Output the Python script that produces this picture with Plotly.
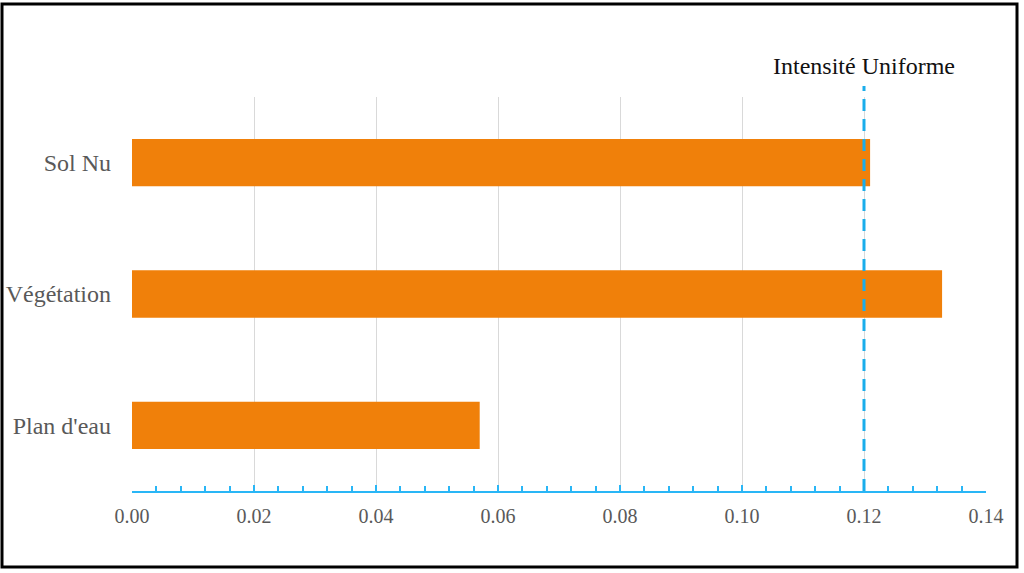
import plotly.graph_objects as go

categories = ["Plan d'eau", "Végétation", "Sol Nu"]
values = [0.057, 0.1328, 0.121]
uniform_value = 0.12
uniform_label = "Intensité Uniforme"
x_ticks = [0.00, 0.02, 0.04, 0.06, 0.08, 0.10, 0.12, 0.14]

W, H = 1024, 573
L, R, T, B = 132, 38, 97, 82
pw, ph = W - L - R, H - T - B

def px_x(p):
    return (p - L) / pw

def px_y(p):
    return (H - B - p) / ph

fig = go.Figure()
fig.add_trace(go.Bar(
    y=categories, x=values, orientation="h",
    marker=dict(color="#F0800A", line=dict(width=0)),
    width=0.36, showlegend=False,
))

fig.add_shape(type="line", xref="x", yref="paper",
              x0=uniform_value, x1=uniform_value, y0=0, y1=px_y(86),
              line=dict(color="#1AADEB", width=3, dash="12px,8px"))
fig.add_annotation(x=uniform_value, xref="x", y=px_y(66), yref="paper",
                   xanchor="center", yanchor="middle",
                   text=uniform_label, showarrow=False,
                   font=dict(family="Liberation Serif", size=24, color="#111111"))

fig.add_shape(type="rect", xref="paper", yref="paper",
              x0=px_x(2), x1=px_x(1017), y0=px_y(567), y1=px_y(4),
              line=dict(color="black", width=3), fillcolor="rgba(0,0,0,0)")

fig.update_layout(
    width=W, height=H,
    margin=dict(l=L, r=R, t=T, b=B, pad=0, autoexpand=False),
    plot_bgcolor="white", paper_bgcolor="white",
    xaxis=dict(
        range=[0, 0.14], tickvals=x_ticks, tickformat=".2f",
        showgrid=True, gridcolor="#D9D9D9", gridwidth=1,
        showline=True, linecolor="#29B6F6", linewidth=2,
        ticks="inside", ticklen=6, tickcolor="#29B6F6", tickwidth=2,
        minor=dict(dtick=0.004, ticks="inside", ticklen=5, tickcolor="#29B6F6", tickwidth=2, showgrid=False),
        ticklabelstandoff=6,
        tickfont=dict(family="Liberation Serif", size=20, color="#595959"),
        zeroline=False, fixedrange=True, automargin=False,
    ),
    yaxis=dict(
        categoryorder="array", categoryarray=categories,
        range=[-0.5, 2.5],
        showgrid=False, showline=False, ticks="", zeroline=False,
        ticklabelstandoff=20, automargin=False,
        tickfont=dict(family="Liberation Serif", size=24, color="#595959"),
    ),
)

fig.write_html("out.html", config={"displayModeBar": False},
               post_script="document.body.style.margin='0';document.body.style.overflow='hidden';")
